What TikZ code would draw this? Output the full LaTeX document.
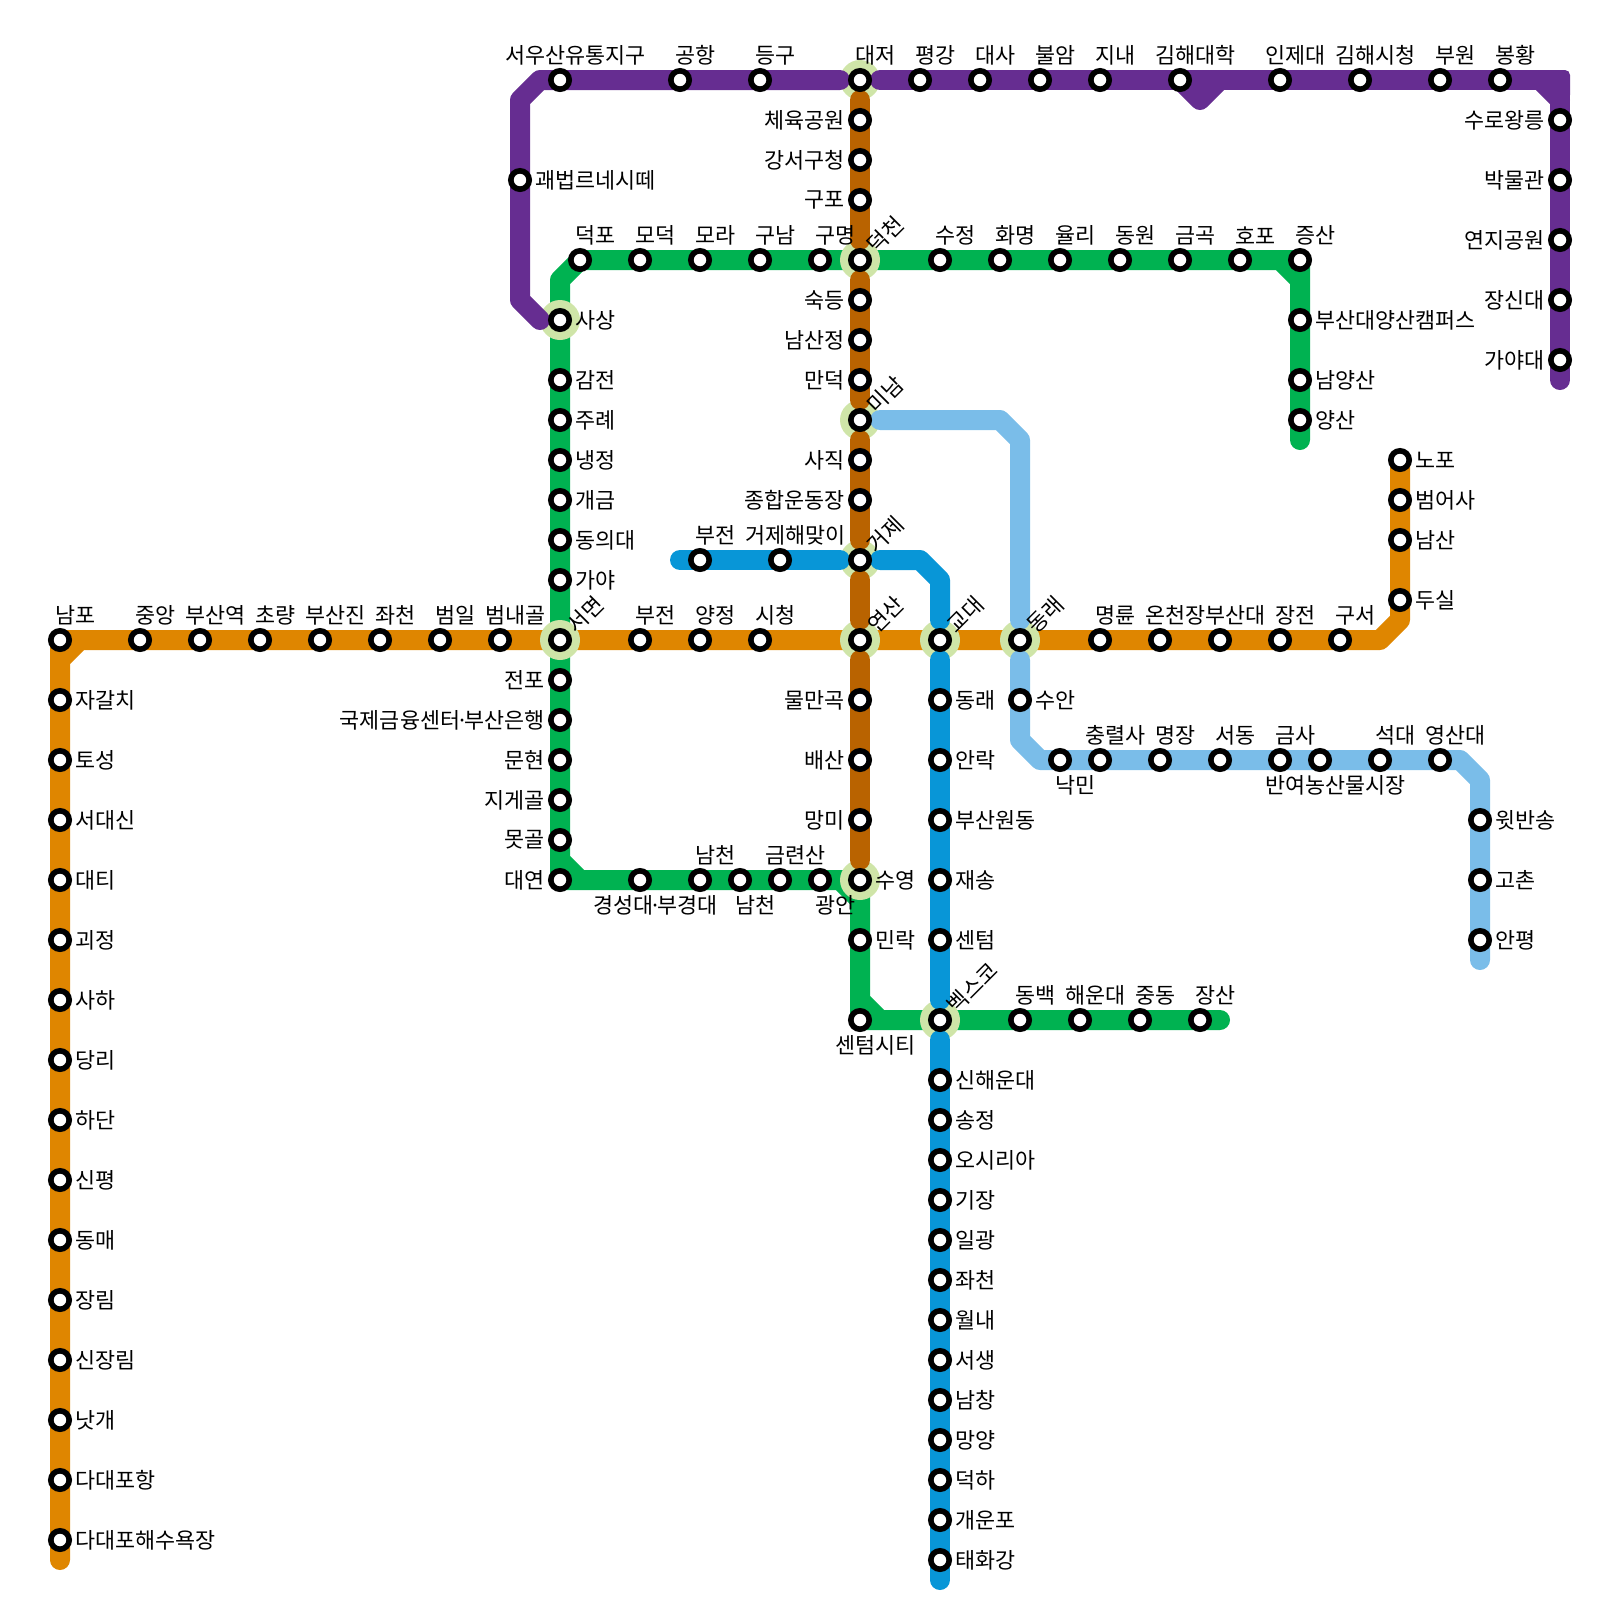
\documentclass[tikz,border=0pt]{standalone}
\usepackage{fontspec}
\setmainfont{Noto Sans CJK KR}
\newcommand{\mdot}{\makebox[.2em][c]{·}}
\definecolor{lineorange}{HTML}{DF8600}
\definecolor{linegreen}{HTML}{00B251}
\definecolor{linebrown}{HTML}{B96300}
\definecolor{linepurple}{HTML}{662D91}
\definecolor{lineblue}{HTML}{0896D7}
\definecolor{linesky}{HTML}{7ABDE9}
\definecolor{halocolor}{HTML}{CFE5A8}
\pgfdeclarelayer{low}
\pgfdeclarelayer{halos}
\pgfdeclarelayer{high}
\pgfsetlayers{low,halos,high,main}
\tikzset{
  metro/.style={line width=.5cm, line cap=round, line join=round},
  station/.style={circle, draw=black, fill=white, line width=.14cm, minimum size=.46cm, inner sep=0pt, outer sep=0pt},
  halo/.style={circle, fill=halocolor, minimum size=1cm, inner sep=0pt, outer sep=0pt},
  lbl/.style={inner sep=0pt, font=\fontsize{15.5}{18}\selectfont},
  labup/.style={lbl, xshift=.385cm, yshift=.61cm},
  labdn/.style={lbl, xshift=.385cm, yshift=-.625cm},
  lablt/.style={lbl, anchor=east, xshift=-.375cm},
  labrt/.style={lbl, anchor=west, xshift=.375cm},
  labrot/.style={lbl, xshift=.275cm, yshift=.275cm, anchor=west, rotate=45}
}
\begin{document}
\begin{tikzpicture}[x=.5cm, y=-.5cm]
\useasboundingbox (0,0) rectangle (80,80);

% 위쪽 이름
\foreach \nm/\xx/\yy/\txt in {nampo/3/32/남포, jungang/7/32/중앙, busanyeok/10/32/부산역, choryang/13/32/초량,
  busanjin/16/32/부산진, jwacheon/19/32/좌천, beomil/22/32/범일, beomnaegol/25/32/범내골, bujeon/32/32/부전,
  yangjeong/35/32/양정, sicheong/38/32/시청, myeongnyun/55/32/명륜, oncheonjang/58/32/온천장, busandae/61/32/부산대,
  jangjeon/64/32/장전, guseo/67/32/구서, deokpo/29/13/덕포, modeok/32/13/모덕, mora/35/13/모라, gunam/38/13/구남,
  gumyeong/41/13/구명, sujeong/47/13/수정, hwamyeong/50/13/화명, yulli/53/13/율리, dongwon/56/13/동원,
  geumgok/59/13/금곡, hopo/62/13/호포, jeungsan/65/13/증산, namcheon/35/44/남천, geumnyeon/39/44/금련산,
  dongbaek/51/51/동백, haeundae/54/51/해운대, jungdong/57/51/중동, jangsan/60/51/장산,
  seowoo/28/4/서우산유통지구, gonghang/34/4/공항, deunggu/38/4/등구, daejeo/43/4/대저, pyeonggang/46/4/평강,
  daesa/49/4/대사, buram/52/4/불암, jinae/55/4/지내, gimhaedae/59/4/김해대학, inje/64/4/인제대,
  gimhaesi/68/4/김해시청, buwon/72/4/부원, bonghwang/75/4/봉황, bujeonb/35/28/부전, haemaji/39/28/거제해맞이,
  chungnyeol/55/38/충렬사, myeongjang/58/38/명장, seodong/61/38/서동, geumsa/64/38/금사, seokdae/69/38/석대,
  yeongsandae/72/38/영산대}{
  \node[station] (\nm) at (\xx,\yy) {};
  \node[labup] (\nm-t) at (\nm) {\txt};
}

% 아래쪽 이름
\foreach \nm/\xx/\yy/\txt in {centumcity/43/51/센텀시티, gyeongseong/32/44/경성대\mdot 부경대, namcheonb/37/44/남천,
  gwangan/41/44/광안, nangmin/53/38/낙민, banyeo/66/38/반여농산물시장}{
  \node[station] (\nm) at (\xx,\yy) {};
  \node[labdn] (\nm-t) at (\nm) {\txt};
}

% 왼쪽 이름
\foreach \nm/\xx/\yy/\txt in {cheyuk/43/6/체육공원, gangseo/43/8/강서구청, gupo/43/10/구포, sukdeung/43/15/숙등,
  namsanjeong/43/17/남산정, mandeok/43/19/만덕, sajik/43/23/사직, jonghap/43/25/종합운동장, mulmangok/43/35/물만곡,
  baesan/43/38/배산, mangmi/43/41/망미, jeonpo/28/34/전포, gukje/28/36/국제금융센터\mdot 부산은행, munhyeon/28/38/문현,
  jigegol/28/40/지게골, motgol/28/42/못골, daeyeon/28/44/대연, suro/78/6/수로왕릉, bangmul/78/9/박물관,
  yeonji/78/12/연지공원, jangsin/78/15/장신대, gayadae/78/18/가야대}{
  \node[station] (\nm) at (\xx,\yy) {};
  \node[lablt] (\nm-t) at (\nm) {\txt};
}

% 오른쪽 이름
\foreach \nm/\xx/\yy/\txt in {jagalchi/3/35/자갈치, toseong/3/38/토성, seodaesin/3/41/서대신, daeti/3/44/대티,
  goejeong/3/47/괴정, saha/3/50/사하, dangni/3/53/당리, hadan/3/56/하단, sinpyeong/3/59/신평, dongmae/3/62/동매,
  jangnim/3/65/장림, sinjangnim/3/68/신장림, nakgae/3/71/낫개, dadaepohang/3/74/다대포항,
  dadaepobeach/3/77/다대포해수욕장, dusil/70/30/두실, namsan/70/27/남산, beomeosa/70/25/범어사, nopo/70/23/노포,
  gwaebeop/26/9/괘법르네시떼, sasang/28/16/사상, gamjeon/28/19/감전, jurye/28/21/주례, naengjeong/28/23/냉정,
  gaegeum/28/25/개금, dongeui/28/27/동의대, gaya/28/29/가야, pnuyangsan/65/16/부산대양산캠퍼스,
  namyangsan/65/19/남양산, yangsan/65/21/양산, suyeong/43/44/수영, millak/43/47/민락, dongnaeb/47/35/동래,
  allak/47/38/안락, wondong/47/41/부산원동, jaesong/47/44/재송, centum/47/47/센텀, sinhaeundae/47/54/신해운대,
  songjeong/47/56/송정, osiria/47/58/오시리아, gijang/47/60/기장, ilgwang/47/62/일광, jwacheonb/47/64/좌천,
  wollae/47/66/월내, seosaeng/47/68/서생, namchang/47/70/남창, mangyang/47/72/망양, deokha/47/74/덕하,
  gaeunpo/47/76/개운포, taehwagang/47/78/태화강, suan/51/35/수안, witbansong/74/41/윗반송, gochon/74/44/고촌,
  anpyeong/74/47/안평}{
  \node[station] (\nm) at (\xx,\yy) {};
  \node[labrt] (\nm-t) at (\nm) {\txt};
}

% 환승역
\foreach \nm/\xx/\yy/\txt in {deokcheon/43/13/덕천, minam/43/21/미남, geoje/43/28/거제, seomyeon/28/32/서면,
  yeonsan/43/32/연산, gyodae/47/32/교대, dongnae/51/32/동래, bexco/47/51/벡스코}{
  \node[station] (\nm) at (\xx,\yy) {};
  \node[labrot] (\nm-t) at (\nm) {\txt};
}
\begin{pgfonlayer}{halos}
\foreach \nm in {sasang, daejeo, deokcheon, minam, geoje, seomyeon, yeonsan, gyodae, dongnae, suyeong, bexco}
  \node[halo] (\nm-h) at (\nm) {};
\end{pgfonlayer}

% 꺾이는 점과 끝점
\coordinate (oend) at (3,78);
\coordinate (oa) at (3,33);
\coordinate (ob) at (4,32);
\coordinate (oc) at (69,32);
\coordinate (od) at (70,31);
\coordinate (ga) at (28,14);
\coordinate (gb) at (28,43);
\coordinate (gc) at (29,44);
\coordinate (gd) at (42,44);
\coordinate (ge) at (43,45);
\coordinate (gf) at (43,50);
\coordinate (gg) at (44,51);
\coordinate (gend) at (61,51);
\coordinate (gh) at (64,13);
\coordinate (gi) at (65,14);
\coordinate (gtop) at (65,22);
\coordinate (pstart) at (27,16);
\coordinate (pa) at (26,15);
\coordinate (pb) at (26,5);
\coordinate (pc) at (27,4);
\coordinate (pd) at (60,5);
\coordinate (pe) at (61,4);
\coordinate (pf) at (78,4);
\coordinate (pg) at (77,4);
\coordinate (ph) at (78,5);
\coordinate (pend) at (78,19);
\coordinate (bstart) at (34,28);
\coordinate (ba) at (46,28);
\coordinate (bb) at (47,29);
\coordinate (bend) at (47,79);
\coordinate (sa) at (50,21);
\coordinate (sb) at (51,22);
\coordinate (sc) at (51,37);
\coordinate (sd) at (52,38);
\coordinate (se) at (73,38);
\coordinate (sf) at (74,39);
\coordinate (send) at (74,48);

\begin{pgfonlayer}{low}
% 1호선
\draw[metro, lineorange] (oend) -- (nampo.center) -- (oc) -- (od) -- (nopo.center) (oa) -- (ob);
% 2호선
\draw[metro, linegreen] (deokpo.center) -- (ga) -- (daeyeon.center) -- (suyeong.center) -- (centumcity.center) -- (gend)
  (gb) -- (gc) (gd) -- (ge) (gf) -- (gg);
\draw[metro, linegreen] (deokpo.center) -- (jeungsan.center) -- (gtop) (gh) -- (gi);
\end{pgfonlayer}

\begin{pgfonlayer}{high}
% 3호선
\foreach \aa/\bb in {daejeo/deokcheon, deokcheon/minam, minam/geoje, geoje/yeonsan, yeonsan/suyeong}
  \draw[metro, linebrown, shorten <=.5cm, shorten >=.5cm] (\aa.center) -- (\bb.center);
% 김해선
\draw[metro, linepurple, shorten >=.5cm] (pstart) -- (pa) -- (pb) -- (pc) -- (daejeo.center);
\draw[metro, linepurple, shorten <=.5cm] (daejeo.center) -- (pf) -- (pend);
\draw[metro, linepurple] (gimhaedae.center) -- (pd) -- (pe) (pg) -- (ph);
\fill[linepurple, rounded corners=.125cm] (77,3.5) -- (78.5,3.5) -- (78.5,5) -- cycle;
% 4호선
\draw[metro, lineblue, shorten >=.5cm] (bstart) -- (geoje.center);
\draw[metro, lineblue, shorten <=.5cm, shorten >=.5cm] (geoje.center) -- (ba) -- (bb) -- (gyodae.center);
\draw[metro, lineblue, shorten <=.5cm, shorten >=.5cm] (gyodae.center) -- (bexco.center);
\draw[metro, lineblue, shorten <=.5cm] (bexco.center) -- (bend);
% 동해선
\draw[metro, linesky, shorten <=.5cm, shorten >=.5cm] (minam.center) -- (sa) -- (sb) -- (dongnae.center);
\draw[metro, linesky, shorten <=.5cm] (dongnae.center) -- (sc) -- (sd) -- (se) -- (sf) -- (send);
\end{pgfonlayer}

\end{tikzpicture}
\end{document}
